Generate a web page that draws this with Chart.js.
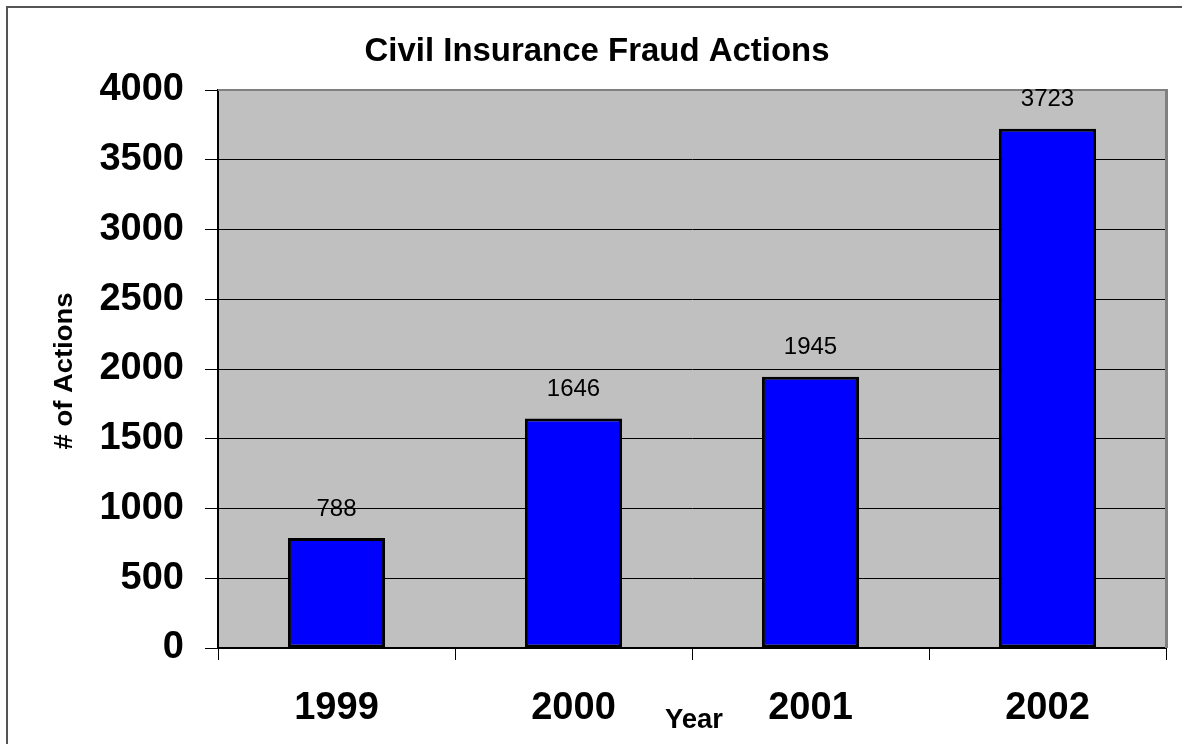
<!DOCTYPE html>
<html>
<head>
<meta charset="utf-8">
<script src="https://cdn.jsdelivr.net/npm/chart.js@4/dist/chart.umd.min.js"></script>
<style>
  html, body { margin: 0; padding: 0; background: #fff; }
  #wrap { width: 1182px; height: 744px; position: relative; }
</style>
</head>
<body>
<div id="wrap"><canvas id="c" width="1182" height="744"></canvas></div>
<script>
const chartTitle = "Civil Insurance Fraud Actions";
const xAxisTitle = "Year";
const yAxisTitle = "# of Actions";
const categories = ["1999", "2000", "2001", "2002"];
const actions = [788, 1646, 1945, 3723];
const yMin = 0, yMax = 4000, yStep = 500;

const FONT = '"Liberation Sans", Arial, Helvetica, sans-serif';

function fitText(ctx, text, x, y, font, targetW, rotate) {
  ctx.save();
  ctx.font = font;
  const w = ctx.measureText(text).width;
  ctx.translate(x, y);
  if (rotate) ctx.rotate(rotate);
  ctx.scale(targetW / w, 1);
  ctx.textAlign = 'center';
  ctx.textBaseline = 'middle';
  ctx.fillStyle = '#000';
  ctx.fillText(text, 0, 0);
  ctx.restore();
}

const decor = {
  id: 'decor',
  beforeDraw(chart) {
    const ctx = chart.ctx, a = chart.chartArea;
    ctx.save();
    ctx.fillStyle = '#fff';
    ctx.fillRect(0, 0, chart.width, chart.height);
    ctx.fillStyle = '#C0C0C0';
    ctx.fillRect(a.left, a.top, a.right - a.left, a.bottom - a.top);
    ctx.restore();
  },
  beforeDatasetsDraw(chart) {
    const ctx = chart.ctx, a = chart.chartArea;
    ctx.save();
    ctx.strokeStyle = '#808080';
    ctx.lineWidth = 2;
    ctx.beginPath();
    ctx.moveTo(a.left, a.top);
    ctx.lineTo(a.right + 1, a.top);
    ctx.stroke();
    ctx.lineWidth = 3;
    ctx.beginPath();
    ctx.moveTo(a.right + 0.5, a.top - 1);
    ctx.lineTo(a.right + 0.5, a.bottom);
    ctx.stroke();
    ctx.restore();
  },
  afterDatasetsDraw(chart) {
    const ctx = chart.ctx;
    const meta = chart.getDatasetMeta(0);
    ctx.save();
    ctx.font = '24px ' + FONT;
    ctx.fillStyle = '#000';
    ctx.textAlign = 'center';
    ctx.textBaseline = 'middle';
    meta.data.forEach((el, i) => {
      ctx.fillText(String(chart.data.datasets[0].data[i]), el.x, el.y - 29);
    });
    ctx.restore();
  },
  afterDraw(chart) {
    const ctx = chart.ctx;
    ctx.save();
    ctx.strokeStyle = '#555';
    ctx.lineWidth = 2;
    ctx.strokeRect(7, 7, chart.width + 20, chart.height + 20);
    ctx.restore();
    fitText(ctx, chartTitle, 597, 52, 'bold 33px ' + FONT, 465, 0);
    fitText(ctx, xAxisTitle, 694, 720, 'bold 28px ' + FONT, 58, 0);
    fitText(ctx, yAxisTitle, 65, 371, 'bold 25px ' + FONT, 157, -Math.PI / 2);
  }
};

new Chart(document.getElementById('c'), {
  type: 'bar',
  data: {
    labels: categories,
    datasets: [{
      data: actions,
      backgroundColor: '#0000FF',
      borderColor: '#000',
      borderWidth: 3,
      borderSkipped: false,
      barPercentage: 0.41,
      categoryPercentage: 1.0
    }]
  },
  options: {
    responsive: false,
    animation: false,
    events: [],
    layout: { padding: { top: 90, left: 0, right: 16, bottom: 0 } },
    plugins: { legend: { display: false }, title: { display: false }, tooltip: { enabled: false } },
    scales: {
      x: {
        afterFit(scale) { scale.height = 96; },
        grid: {
          offset: true,
          drawOnChartArea: false,
          drawTicks: true,
          tickLength: 12,
          tickColor: '#000',
          color: '#000'
        },
        border: { display: true, color: '#000', width: 2 },
        ticks: {
          color: '#000',
          font: { family: FONT, size: 38, weight: 'bold' },
          padding: 26,
          maxRotation: 0
        }
      },
      y: {
        min: yMin,
        max: yMax,
        afterFit(scale) { scale.width = 218; },
        grid: {
          color: '#000',
          lineWidth: 1,
          drawTicks: true,
          tickLength: 13,
          tickColor: '#000'
        },
        border: { display: true, color: '#000', width: 2 },
        ticks: {
          stepSize: yStep,
          color: '#000',
          font: { family: FONT, size: 38, weight: 'bold' },
          padding: 21,
          callback: (v) => String(v)
        }
      }
    }
  },
  plugins: [decor]
});
</script>
</body>
</html>
